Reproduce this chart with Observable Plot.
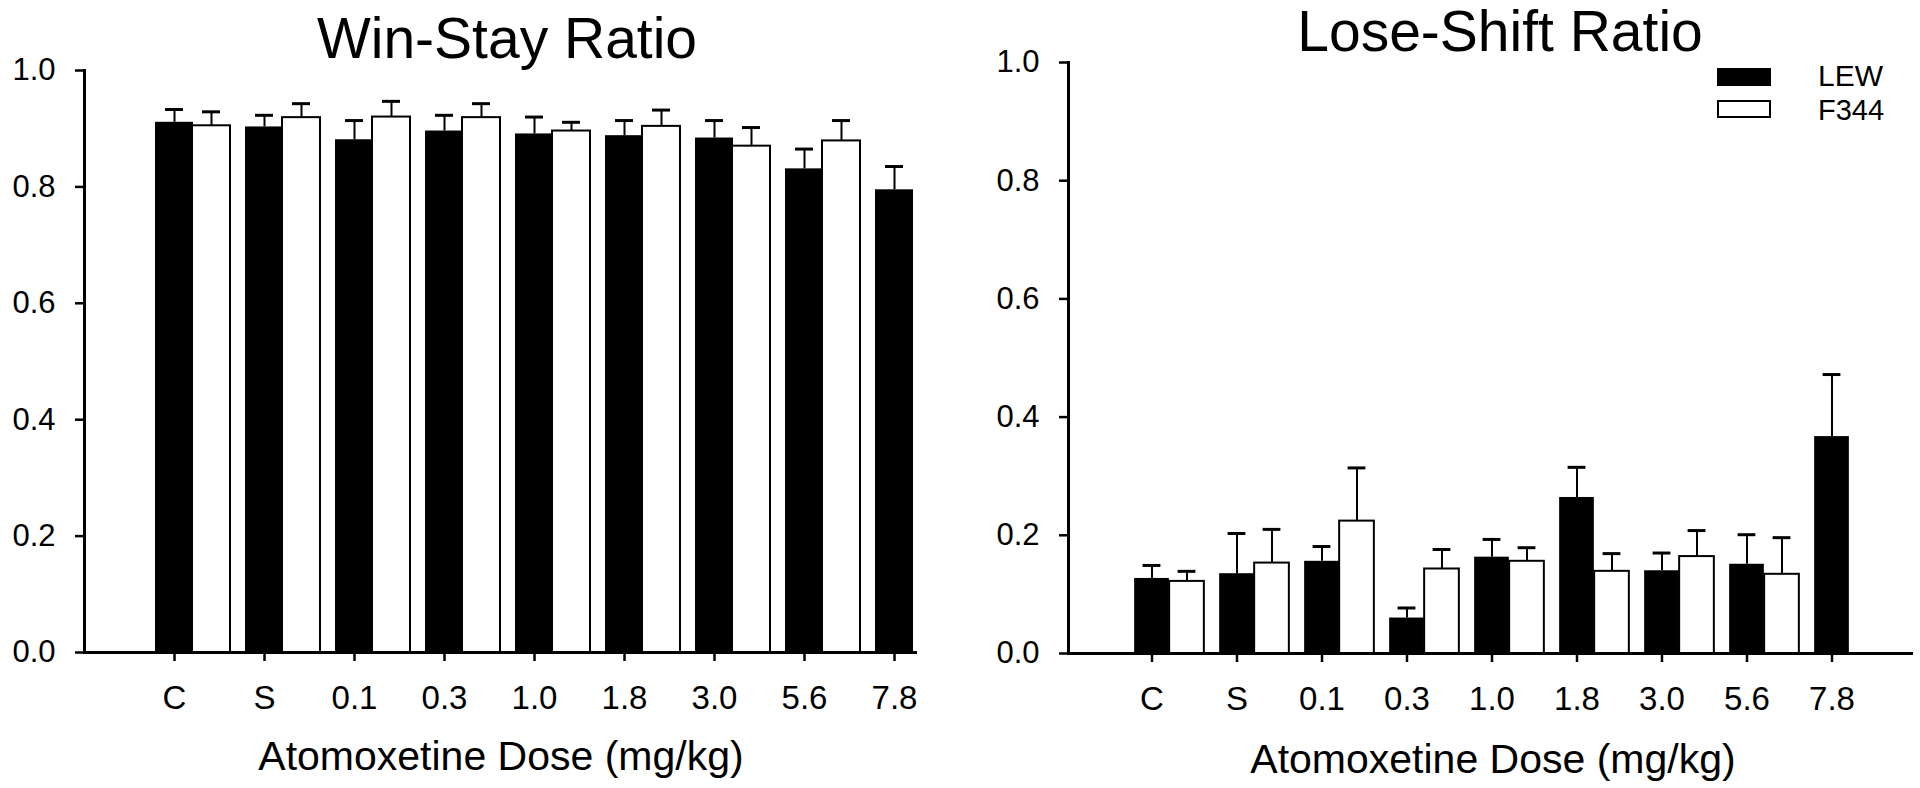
<!DOCTYPE html>
<html>
<head>
<meta charset="utf-8">
<script src="https://cdn.jsdelivr.net/npm/d3@7"></script>
<script src="https://cdn.jsdelivr.net/npm/@observablehq/plot@0.6"></script>
<style>
  html, body { margin: 0; padding: 0; background: #fff; }
  #wrap { position: relative; width: 1920px; height: 788px; overflow: hidden; font-family: "Liberation Sans", Arial, sans-serif; color: #000; }
  #plots { position: absolute; left: 0; top: 0; display: flex; }
  #plots svg { display: block; }
  .txt { position: absolute; white-space: nowrap; line-height: 1; }
  .leg { position: absolute; white-space: nowrap; line-height: 1; font-size: 29px; }
  .ctr { transform: translateX(-50%); }
  .sw { position: absolute; width: 54px; height: 18px; box-sizing: border-box; }
</style>
</head>
<body>
<div id="wrap">
  <div id="plots"></div>
  <div class="txt ctr" style="left:507px; top:10px; font-size:57px;">Win-Stay Ratio</div>
  <div class="txt ctr" style="left:1500px; top:3px; font-size:57px;">Lose-Shift Ratio</div>
  <div class="txt ctr" style="left:501px; top:736px; font-size:41px;">Atomoxetine Dose (mg/kg)</div>
  <div class="txt ctr" style="left:1493px; top:739px; font-size:41px;">Atomoxetine Dose (mg/kg)</div>
  <div class="sw" style="left:1717px; top:68px; background:#000;"></div>
  <div class="sw" style="left:1717px; top:100px; background:#fff; border:2px solid #000;"></div>
  <div class="leg" style="left:1818px; top:61px; font-size:30px; transform-origin:left; ">LEW</div>
  <div class="leg" style="left:1818px; top:95.5px;">F344</div>
</div>
<script>
// ---- Data ----
const doses = ["C", "S", "0.1", "0.3", "1.0", "1.8", "3.0", "5.6", "7.8"];
const yTicks = [0, 0.2, 0.4, 0.6, 0.8, 1.0];
const strains = ["LEW", "F344"];

// Win-Stay ratio: means and SEM
const winStayLEW     = [0.911, 0.903, 0.881, 0.896, 0.891, 0.888, 0.884, 0.831, 0.795];
const winStayLEWErr  = [0.022, 0.020, 0.033, 0.027, 0.029, 0.026, 0.030, 0.034, 0.040];
const winStayF344    = [0.905, 0.919, 0.920, 0.919, 0.896, 0.904, 0.870, 0.879, null];
const winStayF344Err = [0.024, 0.024, 0.027, 0.024, 0.015, 0.028, 0.032, 0.035, null];

// Lose-Shift ratio: means and SEM
const loseShiftLEW     = [0.127, 0.135, 0.156, 0.060, 0.163, 0.264, 0.140, 0.151, 0.367];
const loseShiftLEWErr  = [0.022, 0.068, 0.025, 0.017, 0.030, 0.051, 0.030, 0.050, 0.105];
const loseShiftF344    = [0.122, 0.153, 0.224, 0.143, 0.156, 0.139, 0.164, 0.134, null];
const loseShiftF344Err = [0.017, 0.057, 0.090, 0.033, 0.023, 0.030, 0.044, 0.062, null];

function rows(vals, errs) {
  return doses.map((d, i) => ({dose: d, value: vals[i], err: errs[i]}))
              .filter(r => r.value != null);
}

function panel(lew, f344, o) {
  const top = d => d.value + d.err;
  return Plot.plot({
    width: 960,
    height: 788,
    marginLeft: o.marginLeft,
    marginRight: o.marginRight,
    marginTop: o.marginTop,
    marginBottom: o.marginBottom,
    style: {fontFamily: "'Liberation Sans', Arial, sans-serif", color: "#000", background: "#fff", overflow: "visible"},
    x: {type: "band", domain: doses, range: o.xRange, padding: 0, axis: null},
    y: {domain: [0, 1], axis: null},
    marks: [
      Plot.barY(lew, {x: "dose", y: "value", fill: "#000", insetLeft: o.barInset, insetRight: o.barInset}),
      Plot.barY(f344, {x: "dose", y: "value", fill: "#fff", stroke: "#000", strokeWidth: 2,
                       insetLeft: o.barInset, insetRight: o.barInset, dx: o.dxF}),
      Plot.ruleX(lew, {x: "dose", y1: "value", y2: top, stroke: "#000", strokeWidth: 2}),
      Plot.tickY(lew, {x: "dose", y: top, stroke: "#000", strokeWidth: 3, insetLeft: o.capInset, insetRight: o.capInset}),
      Plot.ruleX(f344, {x: "dose", y1: "value", y2: top, stroke: "#000", strokeWidth: 2, dx: o.dxF}),
      Plot.tickY(f344, {x: "dose", y: top, stroke: "#000", strokeWidth: 3, insetLeft: o.capInset, insetRight: o.capInset, dx: o.dxF}),
      Plot.ruleY([0], {stroke: "#000", strokeWidth: 3}),
      Plot.frame({anchor: "left", stroke: "#000", strokeWidth: 3}),
      Plot.axisY({ticks: yTicks, tickFormat: d3.format(".1f"), tickSize: 9, tickPadding: 20,
                  fontSize: 31, strokeWidth: 2.5, label: null}),
      Plot.axisX({tickSize: 9, tickPadding: 24, fontSize: 33, strokeWidth: 2.5, label: null})
    ]
  });
}

const left = panel(rows(winStayLEW, winStayLEWErr), rows(winStayF344, winStayF344Err), {
  marginLeft: 84, marginRight: 43, marginTop: 70, marginBottom: 136,
  xRange: [129, 939.9], barInset: 26, dxF: 37, capInset: 36
});
const right = panel(rows(loseShiftLEW, loseShiftLEWErr), rows(loseShiftF344, loseShiftF344Err), {
  marginLeft: 108, marginRight: 7, marginTop: 62, marginBottom: 135,
  xRange: [147.35, 915.05], barInset: 25.15, dxF: 35, capInset: 33.6
});
document.getElementById("plots").append(left, right);
</script>
</body>
</html>
